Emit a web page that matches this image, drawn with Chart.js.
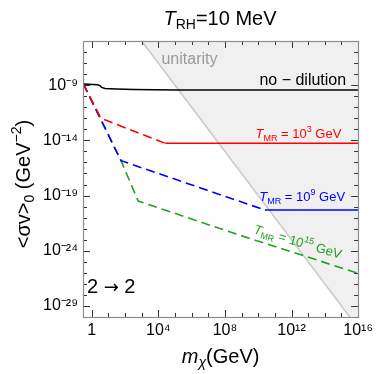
<!DOCTYPE html>
<html><head><meta charset="utf-8">
<script src="https://cdn.jsdelivr.net/npm/chart.js@4.4.1/dist/chart.umd.min.js"></script>
<style>html,body{margin:0;padding:0;background:#fff;}#wrap{width:377px;height:374px;position:relative;}</style>
</head><body><div id="wrap"><canvas id="c" width="377" height="374"></canvas></div>
<script>
const FONT = '"Liberation Sans", Arial, sans-serif';

// m_chi (GeV) and <sigma v>_0 (GeV^-2)
const massNoDilution  = [0.316, 2.24, 3.16, 3.98, 6.31, 31.6, 316, 1e5, 1e16];
const sigmaNoDilution = [1.29e-9, 1.07e-9, 8.9e-10, 6.3e-10, 5.1e-10, 4.5e-10, 4.0e-10, 3.6e-10, 3.6e-10];

const massTMR3  = [0.316, 3.55, 2.57e4, 1e16];
const sigmaTMR3 = [1.29e-9, 1.0e-12, 5.4e-15, 5.4e-15];

const massTMR9  = [0.316, 57.5, 2.5e10, 1e16];
const sigmaTMR9 = [1.29e-9, 1.45e-16, 4.9e-21, 4.9e-21];

const massTMR15  = [0.316, 57.5, 617, 1e3, 7.1e8, 1e16];
const sigmaTMR15 = [1.29e-9, 1.45e-16, 3.2e-20, 2.5e-20, 2.7e-23, 9.1e-27];

const massUnitarity  = [1e3, 1e16];
const sigmaUnitarity = [1e-5, 1e-31];

const xTickExps = [0,1,2,3,4,5,6,7,8,9,10,11,12,13,14,15,16];
const xTickLabels = {0:'1', 4:'10⁴', 8:'10⁸', 12:'10¹²', 16:'10¹⁶'};
const yTickExps = [-30,-29,-28,-27,-26,-25,-24,-23,-22,-21,-20,-19,-18,-17,-16,-15,-14,-13,-12,-11,-10,-9,-8,-7,-6,-5];
const yTickLabels = {'-9':'10⁻⁹', '-14':'10⁻¹⁴', '-19':'10⁻¹⁹', '-24':'10⁻²⁴', '-29':'10⁻²⁹'};

const pts = (xs, ys) => xs.map((x, i) => ({x, y: ys[i]}));
const dashAllButLast = n => ({ borderDash: ctx => ctx.p1DataIndex === n - 1 ? [] : [9, 5] });

function fontStr(p){ return (p.italic ? 'italic ' : '') + p.size + 'px ' + (p.family || FONT); }
function rich(ctx, parts, x, y, align, color){
  let w = 0;
  parts.forEach(p => { ctx.font = fontStr(p); p.w = ctx.measureText(p.t).width; w += p.w; });
  let cx = align === 'center' ? x - w/2 : align === 'right' ? x - w : x;
  ctx.textAlign = 'left'; ctx.textBaseline = 'alphabetic';
  parts.forEach(p => { ctx.font = fontStr(p); ctx.fillStyle = p.color || color; ctx.fillText(p.t, cx, y + (p.dy || 0)); cx += p.w; });
}

const framePlugin = {
  id: 'frame',
  afterDatasetsDraw(chart){
    const ctx = chart.ctx, a = chart.chartArea, xs = chart.scales.x, ys = chart.scales.y;
    ctx.save();
    ctx.strokeStyle = '#333'; ctx.lineWidth = 1;
    ctx.beginPath();
    xTickExps.forEach(k => {
      const px = Math.round(xs.getPixelForValue(Math.pow(10, k))) + 0.5;
      const len = k % 4 === 0 ? 7 : 4;
      ctx.moveTo(px, a.bottom); ctx.lineTo(px, a.bottom - len);
      ctx.moveTo(px, a.top); ctx.lineTo(px, a.top + len);
    });
    yTickExps.forEach(k => {
      const py = Math.round(ys.getPixelForValue(Math.pow(10, k))) + 0.5;
      const len = ((k + 9) % 5 === 0) ? 7 : 4;
      ctx.moveTo(a.left, py); ctx.lineTo(a.left + len, py);
      ctx.moveTo(a.right, py); ctx.lineTo(a.right - len, py);
    });
    ctx.stroke();
    ctx.strokeStyle = '#8c8c8c'; ctx.lineWidth = 1.2;
    ctx.strokeRect(Math.round(a.left) + 0.5, Math.round(a.top) + 0.5, Math.round(a.right - a.left), Math.round(a.bottom - a.top));

    // annotations anchored in data coordinates
    const X = v => xs.getPixelForValue(v), Y = v => ys.getPixelForValue(v);
    rich(ctx, [{t:'unitarity', size:16}], X(7.4e5), Y(8.3e-8), 'center', '#9a9a9a');
    rich(ctx, [{t:'no − dilution', size:16}], X(1.9e15), Y(1.0e-9), 'right', '#000');
    rich(ctx, [{t:'T', size:13, italic:true}, {t:'MR', size:9, dy:3}, {t:' = 10', size:13}, {t:'3', size:9, dy:-6}, {t:' GeV', size:13}],
         X(9.8e14), Y(1.6e-14), 'right', '#ff0000');
    rich(ctx, [{t:'T', size:13, italic:true}, {t:'MR', size:9, dy:3}, {t:' = 10', size:13}, {t:'9', size:9, dy:-6}, {t:' GeV', size:13}],
         X(1.65e15), Y(3.2e-20), 'right', '#0000ff');
    ctx.save();
    ctx.translate(X(4.8e9), Y(4.1e-23));
    ctx.rotate(16.5 * Math.PI / 180);
    rich(ctx, [{t:'T', size:13, italic:true}, {t:'MR', size:9, dy:3}, {t:' = 10', size:13}, {t:'15', size:9, dy:-6}, {t:' GeV', size:13}],
         0, 0, 'left', '#22a022');
    ctx.restore();
    rich(ctx, [{t:'2 ', size:20}, {t:'→', size:18, family:'"DejaVu Sans", sans-serif'}, {t:' 2', size:20}], a.left + 4, Y(1.6e-28), 'left', '#000');
    ctx.restore();
  },
  afterDraw(chart){
    const ctx = chart.ctx, a = chart.chartArea;
    ctx.save();
    rich(ctx, [{t:'T', size:20, italic:true}, {t:'RH', size:14, dy:4}, {t:'=10 MeV', size:20}], 220, 25, 'center', '#000');
    rich(ctx, [{t:'m', size:20, italic:true}, {t:'χ', size:14, italic:true, dy:4}, {t:'(GeV)', size:20}], (a.left + a.right)/2, 363, 'center', '#000');
    ctx.translate(30, 184);
    ctx.rotate(-Math.PI/2);
    rich(ctx, [{t:'<σv>', size:20}, {t:'0', size:14, dy:4}, {t:' (GeV', size:20}, {t:'−2', size:14, dy:-9}, {t:')', size:20}], 0, 0, 'center', '#000');
    ctx.restore();
  }
};

const lineDs = (label, data, color, extra) => Object.assign({
  label, data, borderColor: color, backgroundColor: color, borderWidth: 1.6,
  pointRadius: 0, tension: 0, fill: false
}, extra || {});

new Chart(document.getElementById('c'), {
  type: 'line',
  data: {
    datasets: [
      lineDs('no-dilution', pts(massNoDilution, sigmaNoDilution), '#000000', {borderWidth: 1.5}),
      lineDs('TMR=1e3', pts(massTMR3, sigmaTMR3), '#ff0000', {segment: dashAllButLast(massTMR3.length)}),
      lineDs('TMR=1e9', pts(massTMR9, sigmaTMR9), '#0000ff', {segment: dashAllButLast(massTMR9.length)}),
      lineDs('TMR=1e15', pts(massTMR15, sigmaTMR15), '#22a022', {borderDash: [9, 5]}),
      lineDs('unitarity', pts(massUnitarity, sigmaUnitarity), '#c8c8c8', {fill: 'end', backgroundColor: '#f0f0f0', borderWidth: 1.5})
    ]
  },
  options: {
    responsive: false, animation: false, devicePixelRatio: 1,
    layout: { padding: { top: 41, right: 17, left: 0, bottom: 0 } },
    plugins: { legend: { display: false }, tooltip: { enabled: false }, title: { display: false } },
    scales: {
      x: {
        type: 'logarithmic', min: Math.pow(10, -0.5), max: 1e16,
        afterBuildTicks: s => { s.ticks = xTickExps.map(k => ({ value: Math.pow(10, k) })); },
        afterFit: s => { s.height = 57; },
        grid: { display: false, drawTicks: false }, border: { display: false },
        ticks: {
          autoSkip: false, maxRotation: 0, padding: 4, color: '#000',
          font: { family: FONT, size: 16 },
          callback: v => { const k = Math.round(Math.log10(v)); return xTickLabels[k] || ''; }
        }
      },
      y: {
        type: 'logarithmic', min: 1e-30, max: 1e-5,
        afterBuildTicks: s => { s.ticks = yTickExps.map(k => ({ value: Math.pow(10, k) })); },
        afterFit: s => { s.width = 83; },
        grid: { display: false, drawTicks: false }, border: { display: false },
        ticks: {
          autoSkip: false, padding: 5, color: '#000',
          font: { family: FONT, size: 16 },
          callback: v => { const k = Math.round(Math.log10(v)); return yTickLabels[String(k)] || ''; }
        }
      }
    }
  },
  plugins: [framePlugin]
});
</script></body></html>
